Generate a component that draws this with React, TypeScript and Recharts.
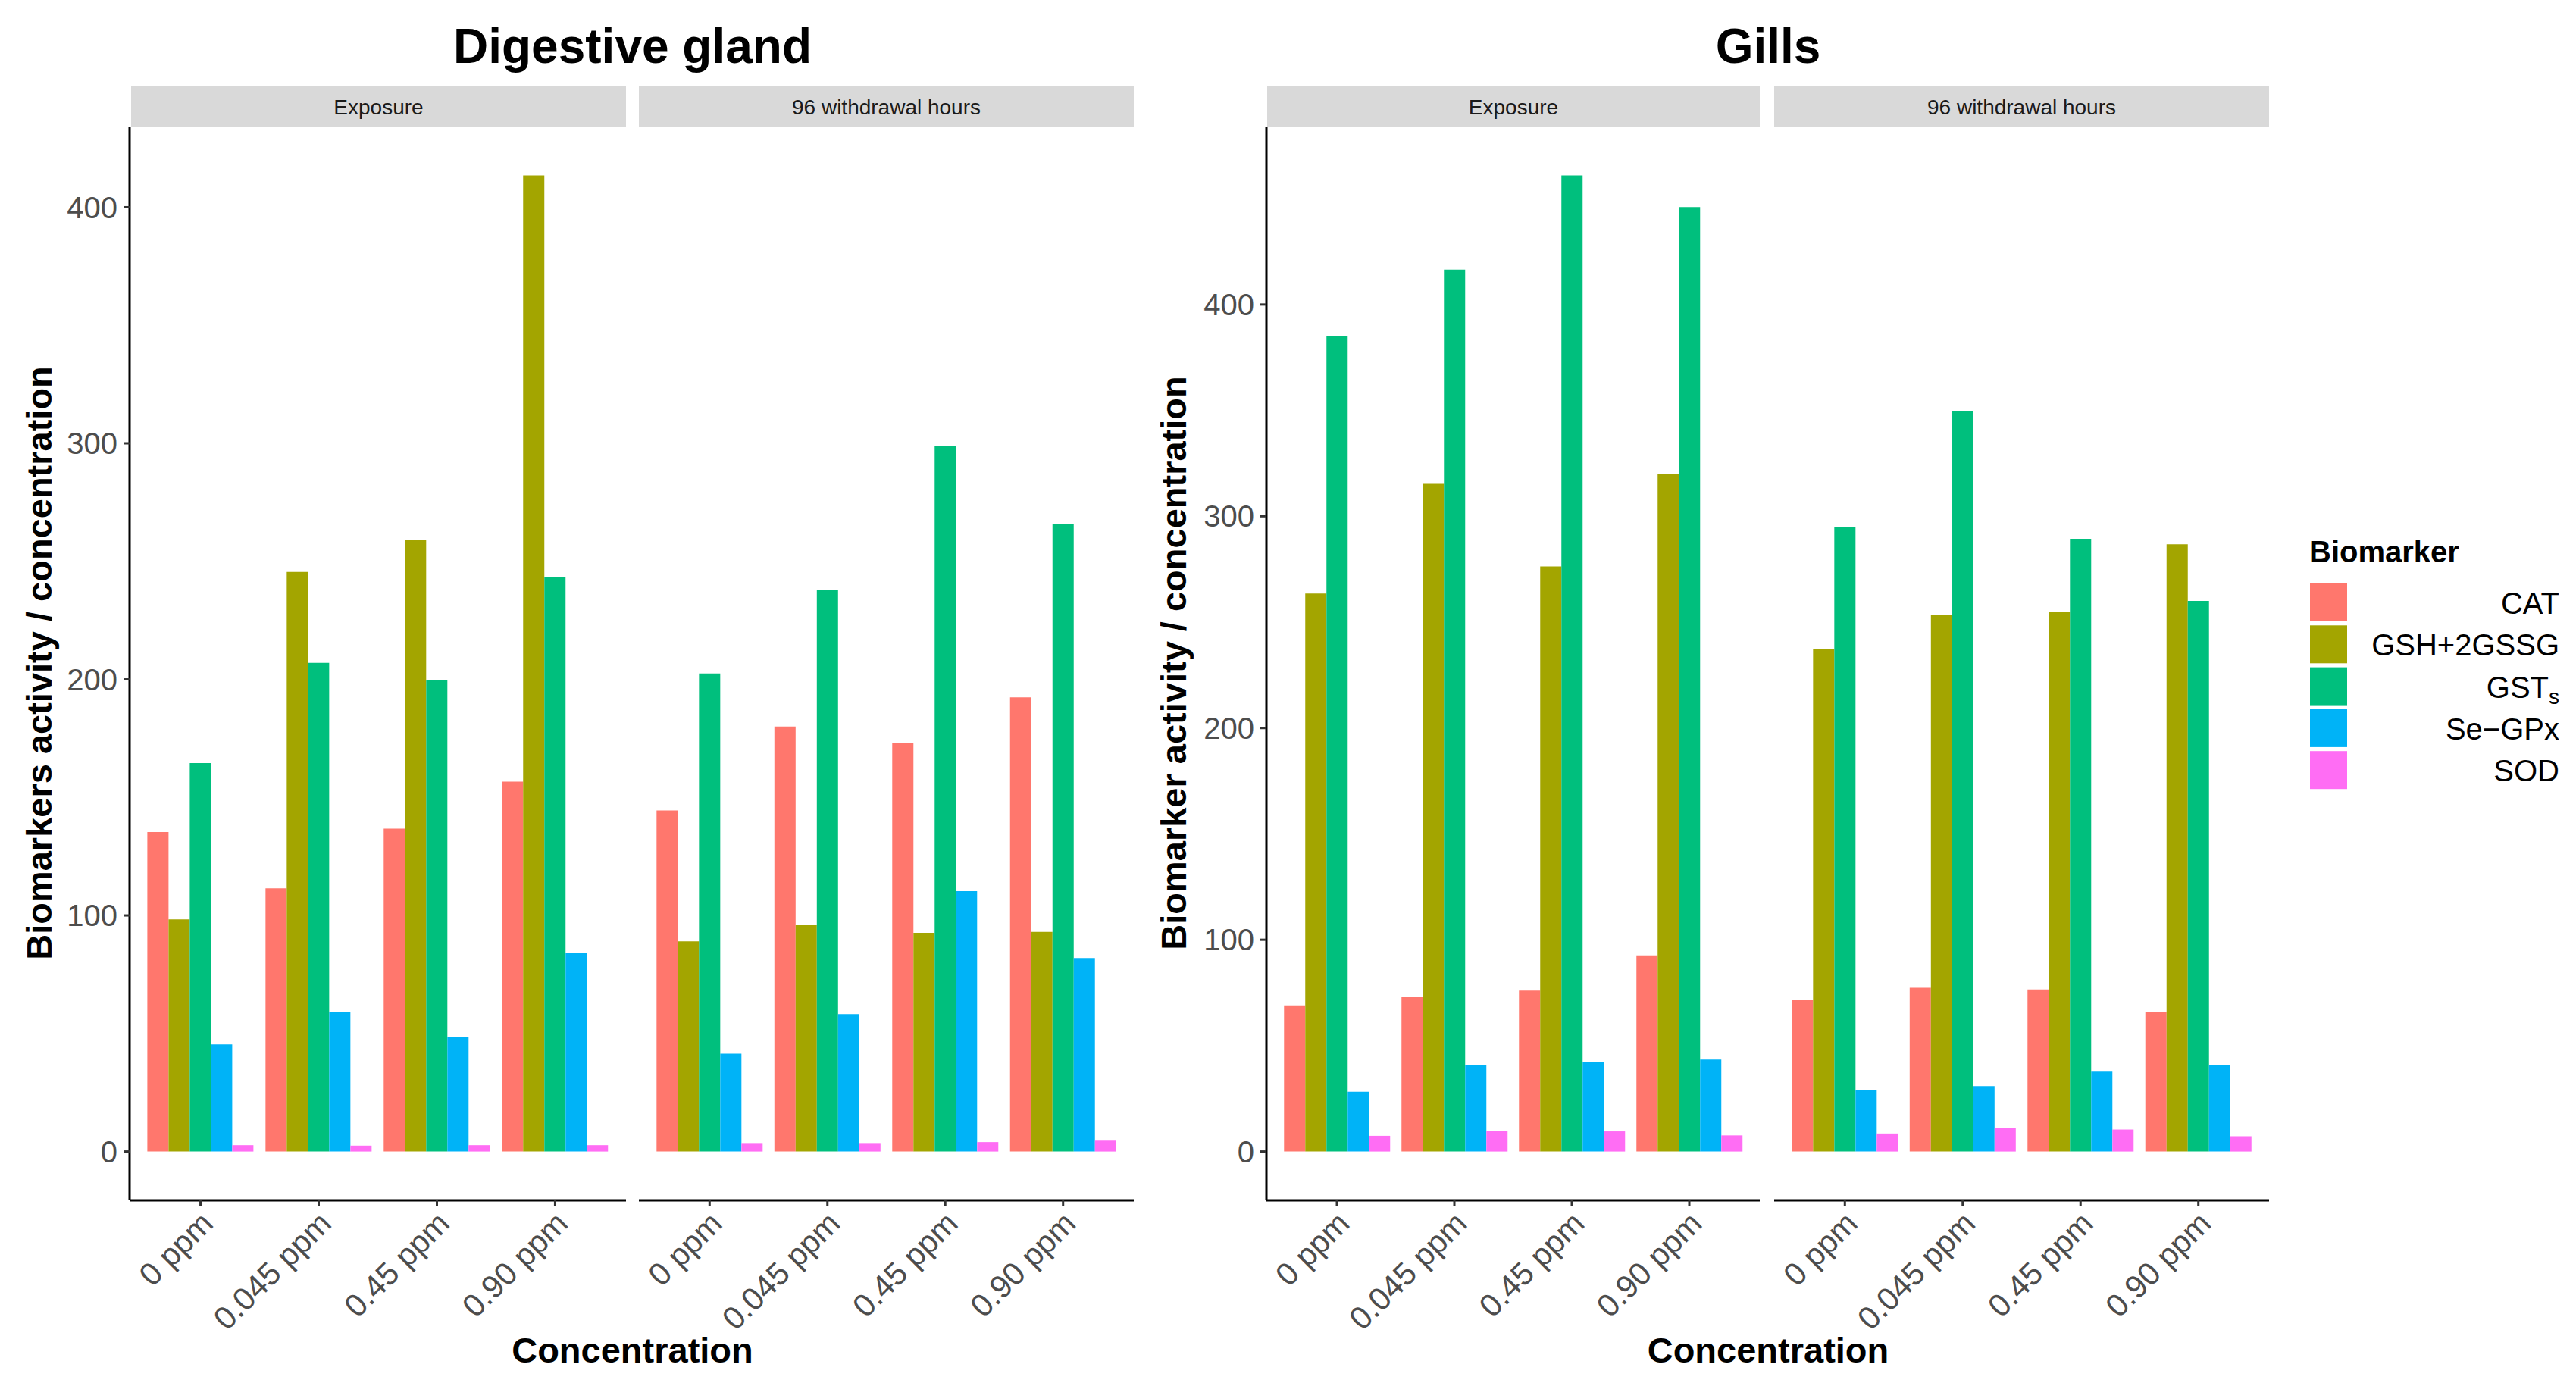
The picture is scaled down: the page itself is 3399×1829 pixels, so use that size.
import React from "react";
import { BarChart, Bar, XAxis, YAxis } from "recharts";

// concentrations on the x axis of every facet
const concentrations = ["0 ppm", "0.045 ppm", "0.45 ppm", "0.90 ppm"];
const biomarkerKeys = ["CAT", "GSH", "GST", "SeGPx", "SOD"];
const biomarkerColors = ["#FF776D", "#A3A500", "#00BF7D", "#00B3F7", "#FF6DF4"];
const yTicks = [0, 100, 200, 300, 400];

// Digestive gland - exposure
const dgExpCAT = [135.3, 111.5, 136.8, 156.7];
const dgExpGSH = [98.3, 245.5, 259, 413.5];
const dgExpGST = [164.5, 207, 199.5, 243.5];
const dgExpSeGPx = [45.4, 59, 48.5, 84];
const dgExpSOD = [2.7, 2.5, 2.7, 2.7];

// Digestive gland - 96 withdrawal hours
const dgWdCAT = [144.5, 180, 172.9, 192.4];
const dgWdGSH = [89, 96.2, 92.6, 93];
const dgWdGST = [202.5, 238, 299, 266];
const dgWdSeGPx = [41.4, 58.2, 110.3, 82];
const dgWdSOD = [3.6, 3.6, 4.0, 4.6];

// Gills - exposure
const giExpCAT = [69, 72.9, 76, 92.6];
const giExpGSH = [263.5, 315.3, 276.3, 320];
const giExpGST = [385, 416.5, 461, 446];
const giExpSeGPx = [28.2, 40.7, 42.4, 43.4];
const giExpSOD = [7.4, 9.7, 9.5, 7.6];

// Gills - 96 withdrawal hours
const giWdCAT = [71.6, 77.3, 76.5, 65.9];
const giWdGSH = [237.5, 253.5, 254.7, 286.8];
const giWdGST = [295, 349.7, 289.4, 260];
const giWdSeGPx = [29.2, 30.9, 38.1, 40.7];
const giWdSOD = [8.5, 11.2, 10.4, 7.2];

const makeRows = (cat, gsh, gst, segpx, sod) =>
  concentrations.map((c, i) => ({
    conc: c,
    CAT: cat[i],
    GSH: gsh[i],
    GST: gst[i],
    SeGPx: segpx[i],
    SOD: sod[i],
  }));

const dgExp = makeRows(dgExpCAT, dgExpGSH, dgExpGST, dgExpSeGPx, dgExpSOD);
const dgWd = makeRows(dgWdCAT, dgWdGSH, dgWdGST, dgWdSeGPx, dgWdSOD);
const giExp = makeRows(giExpCAT, giExpGSH, giExpGST, giExpSeGPx, giExpSOD);
const giWd = makeRows(giWdCAT, giWdGSH, giWdGST, giWdSeGPx, giWdSOD);

// ggplot-like 5% expansion around the data
const expandDomain = (rows1, rows2) => {
  let max = 0;
  [...rows1, ...rows2].forEach((r) =>
    biomarkerKeys.forEach((k) => (max = Math.max(max, r[k])))
  );
  return [-0.05 * max, 1.05 * max];
};
const dgDomain = expandDomain(dgExp, dgWd);
const giDomain = expandDomain(giExp, giWd);

const FONT = "'Liberation Sans', Arial, Helvetica, sans-serif";
const PANEL_TOP = 167;
const PANEL_H = 1417;
const XAXIS_H = 240;
const YAXIS_W = 171;

const XTick = (props) => {
  const { x, y, payload } = props;
  const ax = x + 19;
  const ay = y + 23;
  return (
    <text
      x={ax}
      y={ay}
      transform={`rotate(-45 ${ax} ${ay})`}
      textAnchor="end"
      fontSize={42}
      fill="#4d4d4d"
      fontFamily={FONT}
    >
      {payload.value}
    </text>
  );
};

function Facet({ rows, left, width, showY, domain }) {
  const plotW = width - (showY ? YAXIS_W : 0);
  const pad = (plotW / 4.2) * 0.1;
  return (
    <div style={{ position: "absolute", left, top: PANEL_TOP }}>
      <BarChart
        width={width}
        height={PANEL_H + XAXIS_H}
        data={rows}
        margin={{ top: 0, right: 0, left: 0, bottom: 0 }}
        barCategoryGap="5%"
        barGap={0}
      >
        <XAxis
          dataKey="conc"
          interval={0}
          padding={{ left: pad, right: pad }}
          height={XAXIS_H}
          tickSize={8}
          axisLine={{ stroke: "#000", strokeWidth: 3 }}
          tickLine={{ stroke: "#333", strokeWidth: 3 }}
          tick={<XTick />}
        />
        <YAxis
          hide={!showY}
          width={YAXIS_W}
          type="number"
          domain={domain}
          allowDataOverflow
          ticks={yTicks}
          tickSize={8}
          tickMargin={8}
          axisLine={{ stroke: "#000", strokeWidth: 3 }}
          tickLine={{ stroke: "#333", strokeWidth: 3 }}
          tick={{ fill: "#4d4d4d", fontSize: 40, fontFamily: FONT }}
        />
        {biomarkerKeys.map((k, i) => (
          <Bar key={k} dataKey={k} fill={biomarkerColors[i]} isAnimationActive={false} />
        ))}
      </BarChart>
    </div>
  );
}

const legendLabels = ["CAT", "GSH+2GSSG", "GST", "Se\u2212GPx", "SOD"];

function Overlay() {
  const strips = [
    { x: 173, w: 653, label: "Exposure" },
    { x: 843, w: 653, label: "96 withdrawal hours" },
    { x: 1672, w: 650, label: "Exposure" },
    { x: 2341, w: 653, label: "96 withdrawal hours" },
  ];
  return (
    <svg
      width={3399}
      height={1829}
      style={{ position: "absolute", left: 0, top: 0, pointerEvents: "none" }}
      fontFamily={FONT}
    >
      <text x={834.5} y={83} textAnchor="middle" fontSize={64} fontWeight="bold" fill="#000">
        Digestive gland
      </text>
      <text x={2333} y={83} textAnchor="middle" fontSize={64} fontWeight="bold" fill="#000">
        Gills
      </text>
      {strips.map((s, i) => (
        <g key={i}>
          <rect x={s.x} y={113} width={s.w} height={54} fill="#d9d9d9" />
          <text x={s.x + s.w / 2} y={151} textAnchor="middle" fontSize={28} fill="#1a1a1a">
            {s.label}
          </text>
        </g>
      ))}
      <text x={834.5} y={1798} textAnchor="middle" fontSize={47} fontWeight="bold" fill="#000">
        Concentration
      </text>
      <text x={2333} y={1798} textAnchor="middle" fontSize={47} fontWeight="bold" fill="#000">
        Concentration
      </text>
      <text
        transform="translate(68,875) rotate(-90)"
        textAnchor="middle"
        fontSize={47}
        fontWeight="bold"
        fill="#000"
      >
        Biomarkers activity / concentration
      </text>
      <text
        transform="translate(1565,875) rotate(-90)"
        textAnchor="middle"
        fontSize={47}
        fontWeight="bold"
        fill="#000"
      >
        Biomarker activity / concentration
      </text>
      <text x={3047} y={742} fontSize={40} fontWeight="bold" fill="#000">
        Biomarker
      </text>
      {legendLabels.map((l, i) => {
        const ky = 769 + i * 55.3;
        return (
          <g key={l}>
            <rect x={3047} y={ky} width={51} height={52} fill={biomarkerColors[i]} stroke="#fff" strokeWidth={2} />
            <text x={3377} y={ky + 41} textAnchor="end" fontSize={40} fill="#000">
              {l}
              {i === 2 ? (
                <tspan fontSize={28} dy={8}>
                  s
                </tspan>
              ) : null}
            </text>
          </g>
        );
      })}
    </svg>
  );
}

export default function App() {
  return (
    <div
      style={{
        position: "absolute",
        left: 0,
        top: 0,
        width: 3399,
        height: 1829,
        background: "#fff",
        fontFamily: FONT,
        overflow: "hidden",
      }}
    >
      <Facet rows={dgExp} left={0} width={826} showY domain={dgDomain} />
      <Facet rows={dgWd} left={843} width={653} showY={false} domain={dgDomain} />
      <Facet rows={giExp} left={1500} width={822} showY domain={giDomain} />
      <Facet rows={giWd} left={2341} width={653} showY={false} domain={giDomain} />
      <Overlay />
    </div>
  );
}
